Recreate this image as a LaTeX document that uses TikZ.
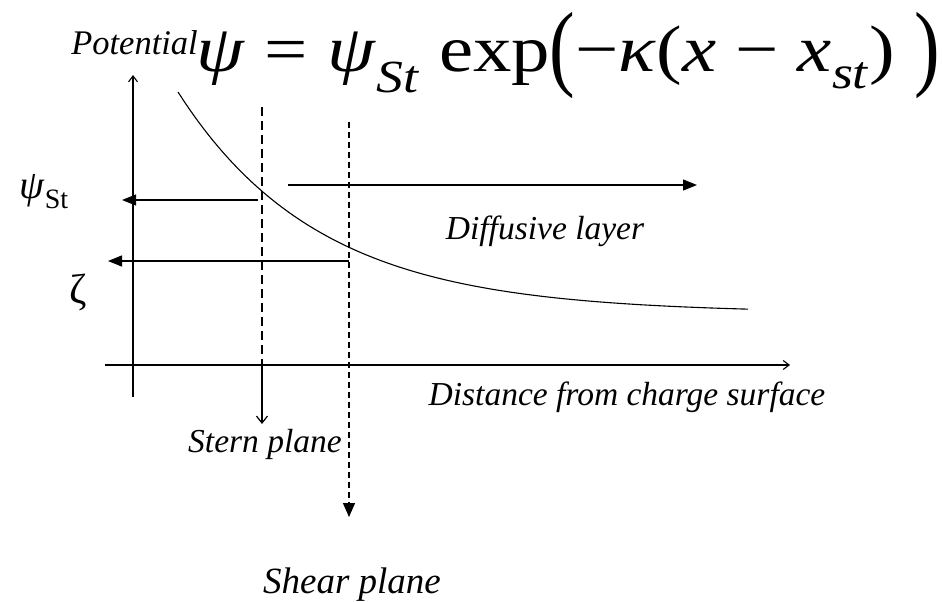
\documentclass[tikz,border=0pt]{standalone}
\usepackage{fontspec}
\setmainfont{Liberation Serif}
\usepackage{graphicx}
\usetikzlibrary{arrows.meta}
\newcommand\tallpar[1]{\raisebox{-0.11em}{\scalebox{1}[1.45]{#1}}}
\begin{document}
\begin{tikzpicture}[x=1pt,y=-1pt,
  axisline/.style={line width=1.1pt,-{Straight Barb[length=6pt,width=9pt]}},
  pointer/.style={line width=1.3pt,-{Triangle[length=14pt,width=11pt]}},
  sterndash/.style={line width=1.3pt,dash pattern=on 9pt off 5pt},
  sheardash/.style={line width=1.3pt,dash pattern=on 6pt off 4pt},
  lbl/.style={inner sep=0pt,font=\fontsize{33.5}{33.5}\selectfont\itshape},
  curveline/.style={line width=1.1pt}]
\useasboundingbox (0,0) rectangle (942,602);
% labels
\node[lbl,anchor=base,font=\fontsize{34.5}{34.5}\selectfont\itshape] (pot) at (134.5,55) {Potential};
\node[inner sep=0pt] (formula) at (568.5,56) {\resizebox*{743pt}{86.5pt}{\fontsize{60}{60}\selectfont
  \textit{ψ} = \textit{ψ}\textsubscript{\textit{St}} exp\tallpar{(}−\textit{κ}(\textit{x} − \textit{x}\textsubscript{\textit{st}})\hspace{0.25em}\tallpar{)}}};
\node[inner sep=0pt,font=\fontsize{40}{40}\selectfont] (psist) at (44,192) {\textit{ψ}\textsubscript{St}};
\node[inner sep=0pt,font=\fontsize{42}{42}\selectfont] (zeta) at (78,292) {ζ};
\node[lbl] (diff) at (545,231) {Diffusive layer};
\node[lbl] (dist) at (627,397) {Distance from charge surface};
\node[lbl] (stern) at (265,444) {Stern plane};
\node[lbl,font=\fontsize{37}{37}\selectfont\itshape] (shear) at (352,585) {Shear plane};
% axes
\coordinate (ybot) at (133,397);
\coordinate (ytop) at (133,75);
\coordinate (xleft) at (105,365);
\coordinate (xright) at (790,365);
\draw[axisline] (ybot) -- (ytop);
\draw[axisline] (xleft) -- (xright);
% potential curve
\draw[curveline] plot[domain=178:748,samples=150] (\x,{313-221*exp(-0.0071*(\x-178))});
% Stern plane
\coordinate (sterntop) at (262,107);
\coordinate (sternaxis) at (262,365);
\coordinate (sternend) at (262,424);
\draw[sterndash] (sterntop) -- (sternaxis);
\draw[axisline,line width=1.2pt,-{Straight Barb[length=7pt,width=11pt]}] (sternaxis) -- (sternend);
% Shear plane
\coordinate (sheartop) at (349,122);
\coordinate (shearend) at (349,517);
\draw[sheardash,-{Triangle[length=14pt,width=12pt]}] (sheartop) -- (shearend);
% level arrows
\coordinate (psifrom) at (258,200);
\coordinate (psito) at (122,200);
\draw[pointer] (psifrom) -- (psito);
\coordinate (zfrom) at (349,261);
\coordinate (zto) at (108,261);
\draw[pointer] (zfrom) -- (zto);
\coordinate (dfrom) at (288,185);
\coordinate (dto) at (697,185);
\draw[pointer] (dfrom) -- (dto);
\end{tikzpicture}
\end{document}
